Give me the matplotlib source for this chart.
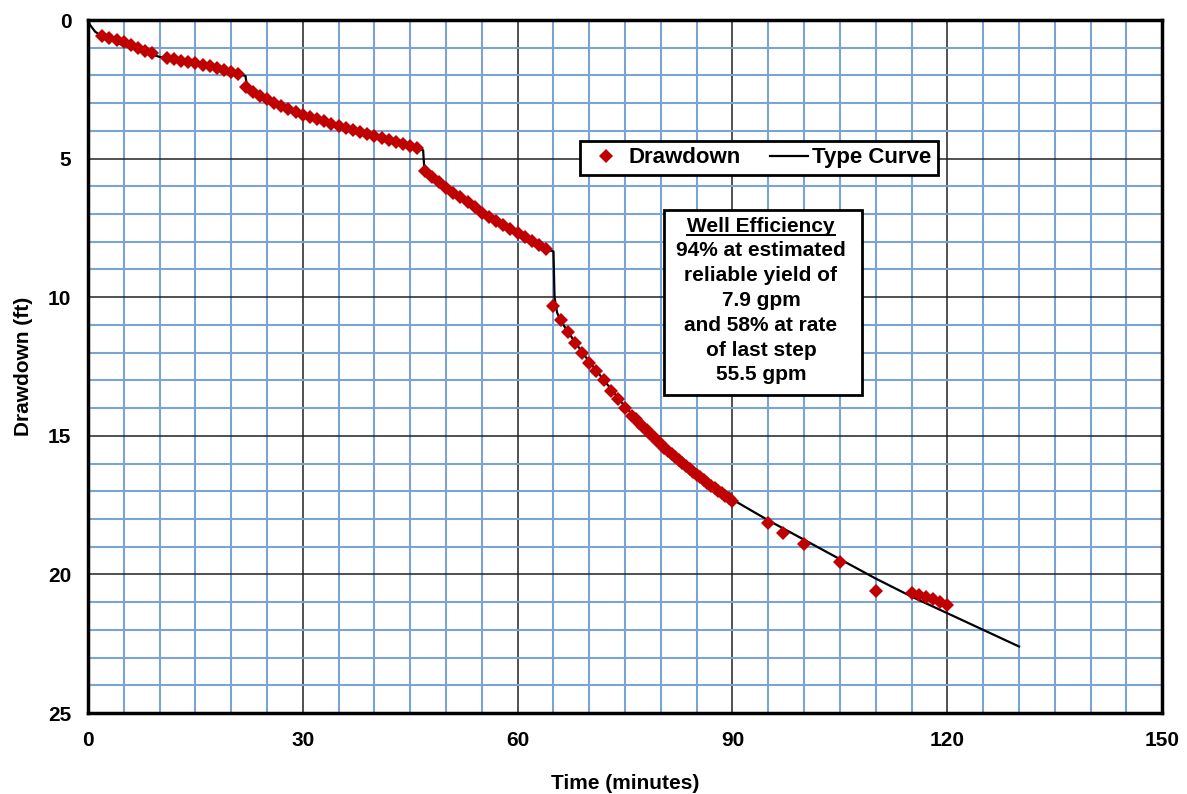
import matplotlib
matplotlib.use("Agg")
import matplotlib.pyplot as plt
from matplotlib.lines import Line2D
from matplotlib.ticker import MultipleLocator

plt.rcParams['font.family'] = ['Liberation Sans', 'DejaVu Sans']
plt.rcParams['font.weight'] = 'bold'

# measured drawdown (minutes, ft)
step1_t = [2, 3, 4, 5, 6, 7, 8, 9, 11, 12, 13, 14, 15, 16, 17, 18, 19, 20, 21]
step1_s = [0.57, 0.65, 0.73, 0.81, 0.9, 1.0, 1.1, 1.2, 1.37, 1.42, 1.47, 1.51, 1.56,
           1.62, 1.67, 1.73, 1.79, 1.86, 1.93]

step2_t = list(range(22, 47))
step2_s = [2.4, 2.58, 2.73, 2.86, 2.98, 3.1, 3.21, 3.31, 3.41, 3.5, 3.58, 3.66, 3.74,
           3.81, 3.89, 3.97, 4.05, 4.12, 4.2, 4.27, 4.34, 4.41, 4.48, 4.55, 4.62]

step3_t = list(range(47, 65))
step3_s = [5.45, 5.65, 5.85, 6.05, 6.23, 6.4, 6.57, 6.73, 6.95, 7.1, 7.25, 7.4, 7.53,
           7.67, 7.82, 7.97, 8.12, 8.27]

step4_t = [65, 66, 67, 68, 69, 70, 71, 72, 73, 74, 75, 76,
           76.5, 77, 77.5, 78, 78.5, 79, 79.5, 80, 80.5, 81, 81.5, 82, 82.5, 83, 83.5,
           84, 84.5, 85, 85.5, 86, 86.5, 87, 87.5, 88, 88.5, 89, 89.5, 90,
           95, 97, 100, 105, 110, 115, 116, 117, 118, 119, 120]
step4_s = [10.3, 10.84, 11.26, 11.64, 12.03, 12.37, 12.67, 13.0, 13.39, 13.69, 13.99, 14.27,
           14.4, 14.55, 14.68, 14.8, 14.93, 15.05, 15.18, 15.3, 15.43, 15.55, 15.65, 15.75,
           15.87, 15.98, 16.1, 16.2, 16.3, 16.4, 16.5, 16.6, 16.7, 16.8, 16.9, 17.0, 17.08,
           17.17, 17.26, 17.35,
           18.15, 18.5, 18.9, 19.56, 20.6, 20.66, 20.74, 20.82, 20.9, 21.0, 21.1]

time_min = step1_t + step2_t + step3_t + step4_t
drawdown = step1_s + step2_s + step3_s + step4_s

# type curve
curve_t = [0, 0.3, 1, 2, 5, 9, 10, 15, 21, 22.0, 22.15, 23, 25, 30, 35, 40, 46,
           46.8, 46.95, 47.5, 50, 55, 60, 64, 65.0, 65.15, 65.5, 66, 68, 70, 75, 80,
           85, 90, 95, 100, 105, 110, 115, 120, 125, 130]
curve_s = [0, 0.18, 0.42, 0.6, 0.92, 1.25, 1.33, 1.6, 1.95, 2.02, 2.3, 2.55, 2.86, 3.4,
           3.82, 4.2, 4.63, 4.7, 5.3, 5.55, 6.07, 6.95, 7.67, 8.27, 8.35, 10.0, 10.55,
           10.85, 11.62, 12.33, 13.95, 15.27, 16.37, 17.3, 18.05, 18.75, 19.45, 20.15,
           20.8, 21.4, 22.0, 22.6]

efficiency_lines = ["94% at estimated", "reliable yield of", "7.9 gpm",
                    "and 58% at rate", "of last step", "55.5 gpm"]

RED = '#c00000'
FS = 15

fig = plt.figure(figsize=(11.87, 7.94), dpi=100)
ax = fig.add_axes([0.0741, 0.102, 0.905, 0.8728])

ax.set_xlim(0, 150)
ax.set_ylim(25, 0)
ax.xaxis.set_major_locator(MultipleLocator(30))
ax.xaxis.set_minor_locator(MultipleLocator(5))
ax.yaxis.set_major_locator(MultipleLocator(5))
ax.yaxis.set_minor_locator(MultipleLocator(1))

ax.grid(True, which='minor', color='#7aa3d6', linewidth=1.5, zorder=0)
ax.grid(True, which='major', color='#222222', linewidth=1.1, zorder=0.5)
ax.set_axisbelow(True)
ax.tick_params(which='both', length=0)
ax.tick_params(axis='x', pad=13, labelsize=FS)
ax.tick_params(axis='y', pad=12, labelsize=FS)
for sp in ax.spines.values():
    sp.set_linewidth(2.5)
    sp.set_color('black')

ax.plot(curve_t, curve_s, color='black', linewidth=1.6, zorder=3)
ax.plot(time_min, drawdown, linestyle='none', marker='D', markersize=7.2,
        color=RED, markeredgewidth=0, zorder=4)

ax.set_xlabel("Time (minutes)", fontsize=FS, fontweight='bold', labelpad=17)
ax.set_ylabel("Drawdown (ft)", fontsize=FS, fontweight='bold', labelpad=11)

handles = [Line2D([], [], linestyle='none', marker='D', markersize=7.2, color=RED,
                  markeredgewidth=0),
           Line2D([], [], color='black', linewidth=1.6)]
leg = ax.legend(handles, ["Drawdown", "Type Curve"], ncol=2, loc='center',
                bbox_to_anchor=(0.6248, 0.801), fontsize=16, frameon=True,
                fancybox=False, edgecolor='black', handlelength=1.7,
                handletextpad=0.2, columnspacing=1.3, borderpad=0.3,
                borderaxespad=0, numpoints=1)
leg.get_frame().set_linewidth(2)
leg.get_frame().set_alpha(1)

# well efficiency box
box = plt.Rectangle((0.536, 0.4589), 0.7207 - 0.536, 0.7258 - 0.4589,
                    transform=ax.transAxes, facecolor='white', edgecolor='black',
                    linewidth=2, zorder=5)
ax.add_patch(box)
cx = 0.6265
line_px = [226.7, 250.7, 275.7, 300, 325, 350, 374]
line_y = [1 - (p - 20) / 693 for p in line_px]
title = ax.text(cx, line_y[0], "Well Efficiency", transform=ax.transAxes, ha='center',
                va='center', fontsize=FS, fontweight='bold', zorder=6)
for txt, y in zip(efficiency_lines, line_y[1:]):
    ax.text(cx, y, txt, transform=ax.transAxes, ha='center', va='center',
            fontsize=FS, fontweight='bold', zorder=6)

fig.canvas.draw()
bb = title.get_window_extent()
inv = fig.transFigure.inverted()
(x0, y0), (x1, _) = inv.transform([(bb.x0, bb.y0 + 1), (bb.x1, bb.y0)])
fig.add_artist(Line2D([x0, x1], [y0, y0], transform=fig.transFigure, color='black',
                      linewidth=1.4, zorder=7))

fig.savefig("out.png", dpi=100)
